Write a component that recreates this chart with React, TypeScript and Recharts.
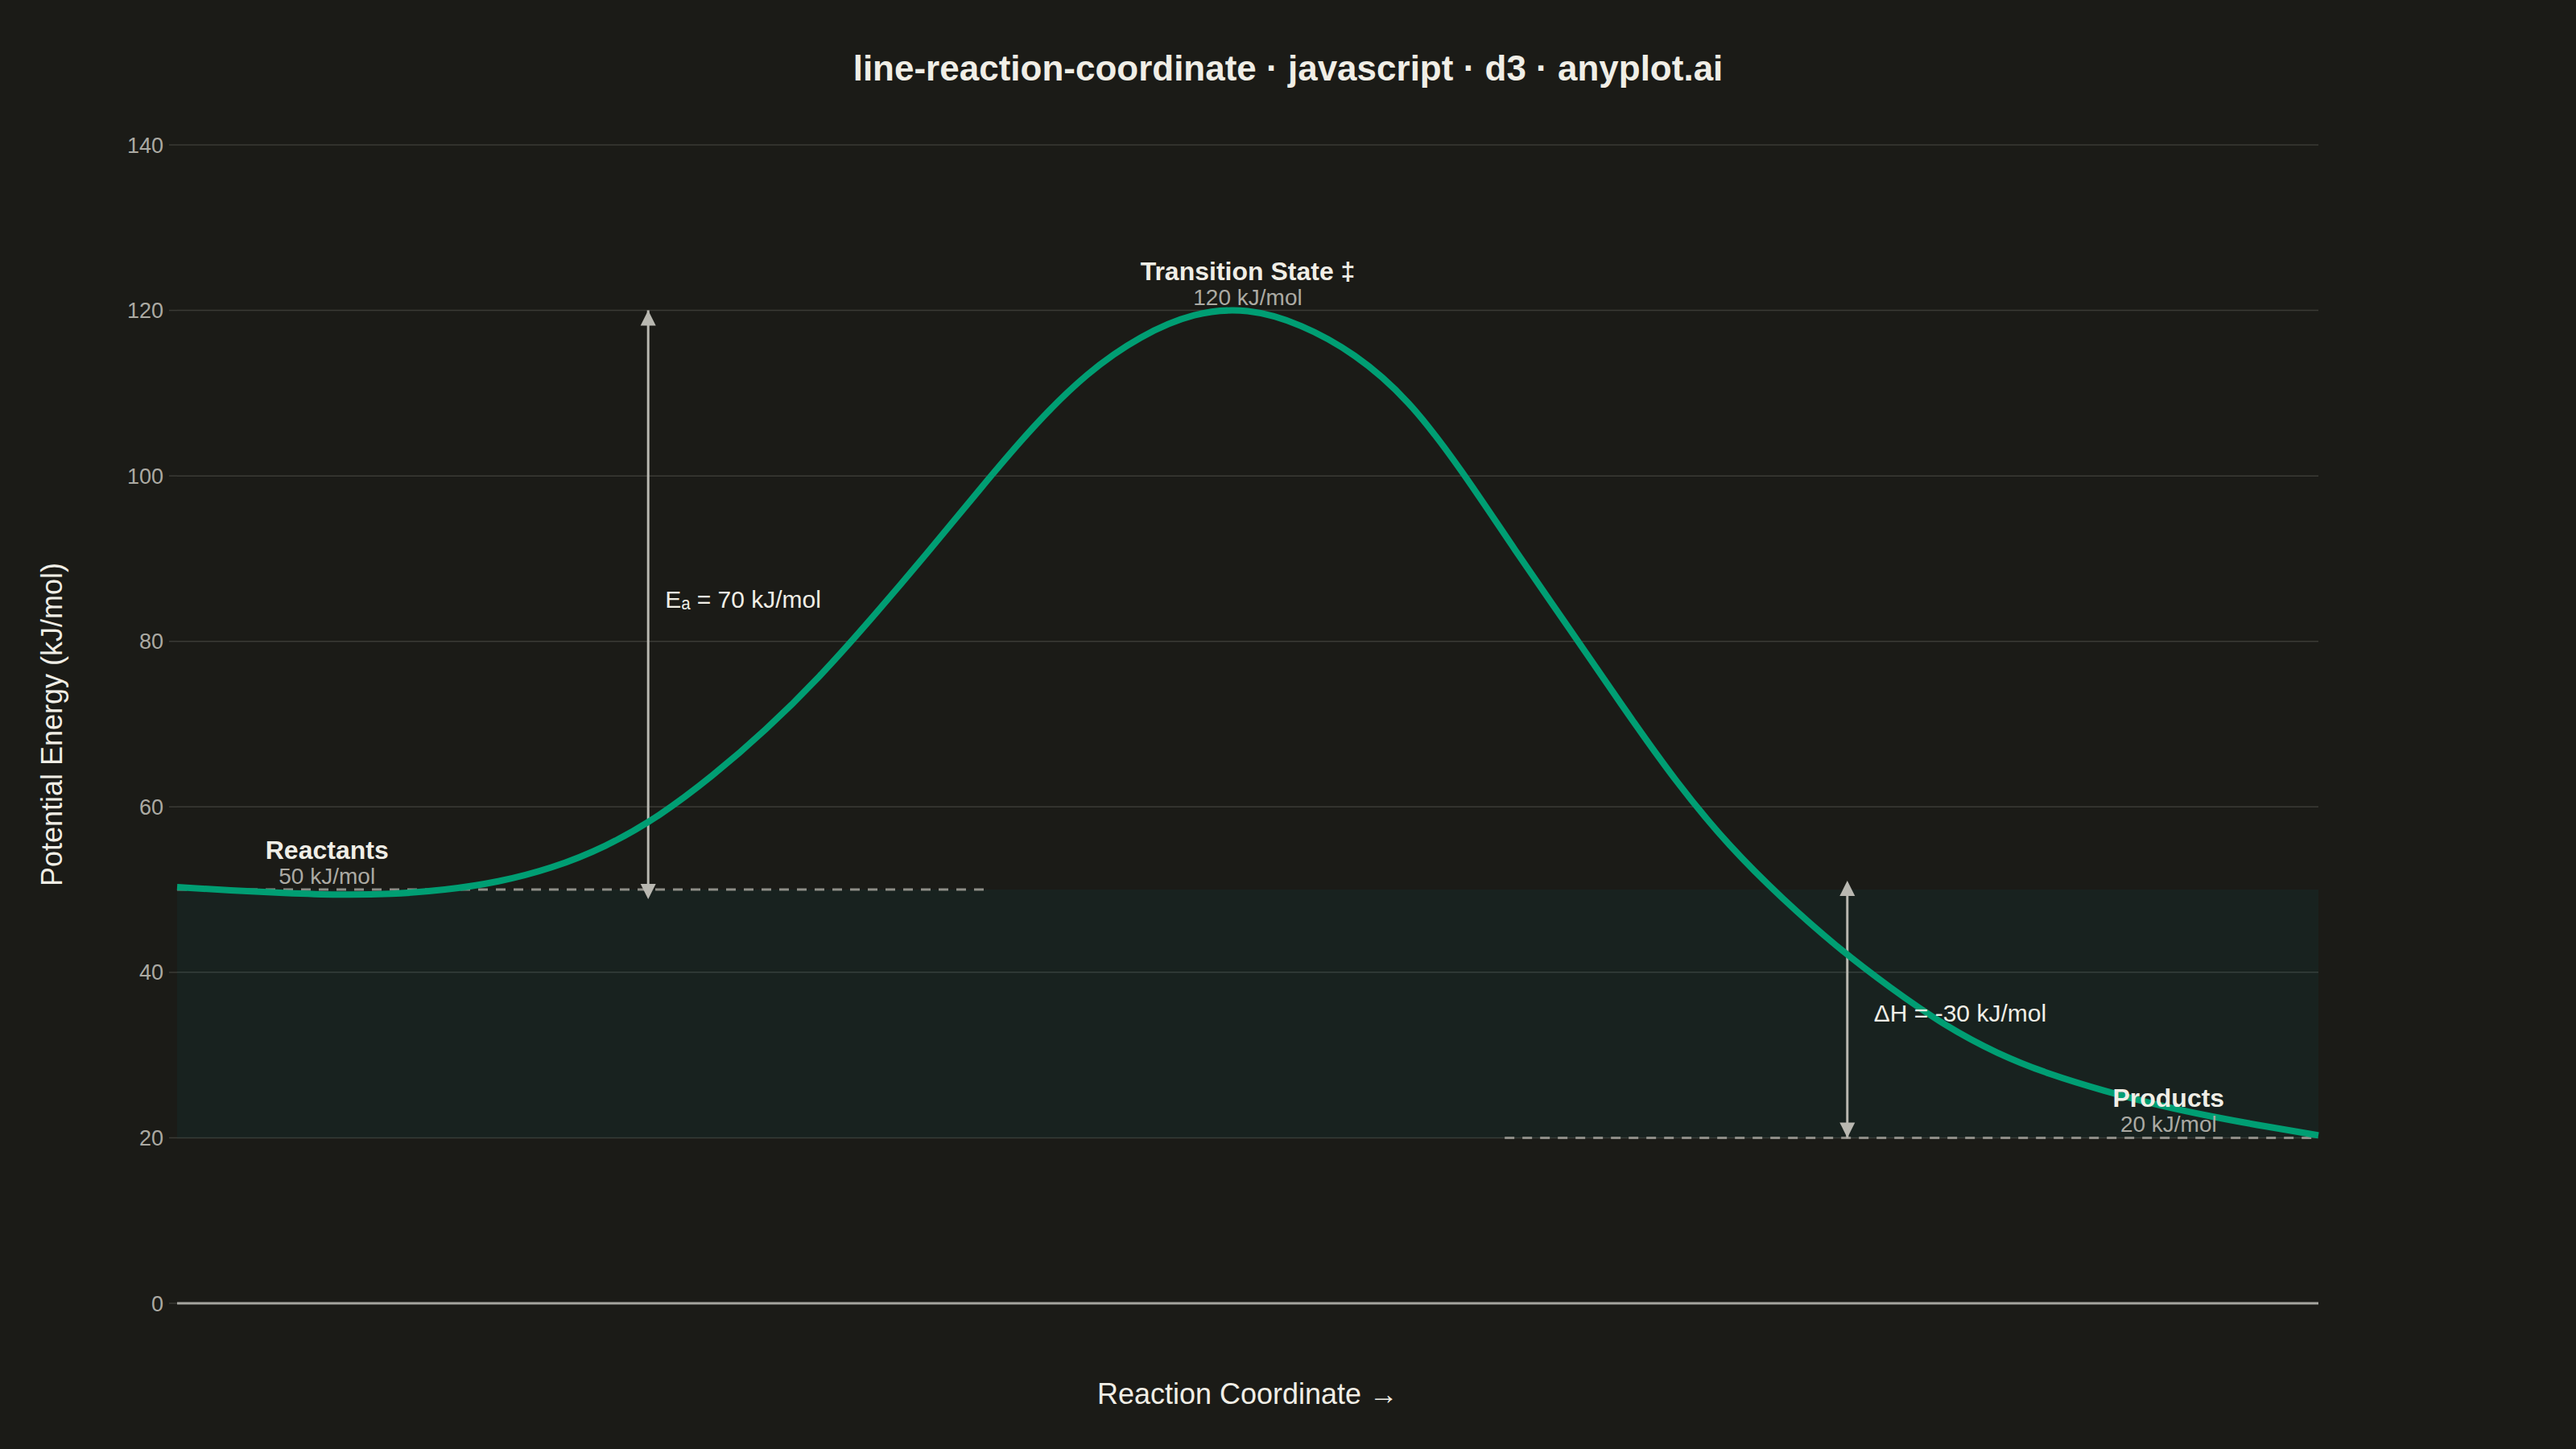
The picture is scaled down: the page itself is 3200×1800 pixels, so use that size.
import {
  ComposedChart,
  Line,
  XAxis,
  YAxis,
  CartesianGrid,
  ReferenceArea,
  ReferenceLine,
  ReferenceDot,
} from "recharts";

// Reaction coordinate (0 = reactants, 100 = products)
const coordinate = [
  0, 2.5, 5, 7.5, 10, 12.5, 15, 17.5, 20, 22.5, 25, 27.5, 30, 32.5, 35, 37.5, 40, 42.5, 45, 47.5,
  50, 52.5, 55, 57.5, 60, 62.5, 65, 67.5, 70, 72.5, 75, 77.5, 80, 82.5, 85, 87.5, 90, 92.5, 95,
  97.5, 100,
];

// Potential energy (kJ/mol)
const energy = [
  50.3, 49.9, 49.6, 49.4, 49.5, 50.0, 51.0, 52.7, 55.3, 59.0, 63.8, 69.4, 75.8, 83.0, 90.6, 98.4,
  105.9, 112.2, 116.7, 119.4, 119.9, 118.1, 114.5, 108.8, 100.5, 91.0, 81.6, 72.2, 63.2, 55.4,
  48.9, 43.2, 38.2, 33.8, 30.3, 27.7, 25.7, 24.0, 22.6, 21.4, 20.3,
];

const yTicks = [0, 20, 40, 60, 80, 100, 120, 140];

const stateNames = ["Reactants", "Transition State ‡", "Products"];
const stateCoordinate = [7, 50, 93];
const stateEnergy = [50, 120, 20];

// dashed energy levels
const levelFrom = [0, 62];
const levelTo = [38, 100];
const levelEnergy = [50, 20];

const arrowCoordinate = [22, 78];
const arrowFrom = [50, 50];
const arrowTo = [120, 20];
const arrowLabels = ["Eₐ = 70 kJ/mol", "ΔH = -30 kJ/mol"];
const arrowLabelGap = [21, 33];

const BG = "#1b1b17";
const GRID = "#3b3b36";
const CURVE = "#009E73";
const ARROW = "#b9b8b1";
const TEXT = "#f0eee6";
const MUTED = "#abaaa3";
const FONT = "'Liberation Sans', Arial, Helvetica, sans-serif";

const chartData = coordinate.map((x, i) => ({ x, energy: energy[i] }));

function XTitle(props: any) {
  const vb = props.viewBox || { x: 220, width: 2660 };
  return (
    <text
      x={vb.x + vb.width / 2}
      y={1744}
      textAnchor="middle"
      fill={TEXT}
      fontSize={36}
      fontFamily={FONT}
    >
      Reaction Coordinate →
    </text>
  );
}

function YTitles() {
  return (
    <g>
      <text
        x={77}
        y={900}
        transform="rotate(-90, 77, 900)"
        textAnchor="middle"
        fill={TEXT}
        fontSize={36}
        fontFamily={FONT}
      >
        Potential Energy (kJ/mol)
      </text>
      <text
        x={1600}
        y={100}
        textAnchor="middle"
        fill={TEXT}
        fontSize={44}
        fontWeight="bold"
        fontFamily={FONT}
      >
        line-reaction-coordinate · javascript · d3 · anyplot.ai
      </text>
    </g>
  );
}

function ArrowHead({ cx, cy, dir, offset }: any) {
  const tip = cy + offset;
  const base = dir === "up" ? tip + 19 : tip - 19;
  return <polygon points={`${cx},${tip} ${cx - 9.5},${base} ${cx + 9.5},${base}`} fill={ARROW} />;
}

export default function App() {
  return (
    <div style={{ width: 3200, height: 1800, background: BG }}>
      <style>{`body{margin:0;background:${BG};}`}</style>
      <ComposedChart
        width={3200}
        height={1800}
        data={chartData}
        margin={{ top: 180, right: 320, bottom: 0, left: 100 }}
      >
        <ReferenceArea
          x1={0}
          x2={100}
          y1={20}
          y2={50}
          fill="#006167"
          fillOpacity={0.1}
          stroke="none"
        />
        <CartesianGrid vertical={false} stroke={GRID} strokeWidth={1.5} />

        <XAxis
          type="number"
          dataKey="x"
          domain={[0, 100]}
          height={181}
          tick={false}
          tickLine={false}
          axisLine={false}
          label={{ content: (p: any) => <XTitle {...p} /> }}
        />
        <YAxis
          type="number"
          domain={[0, 140]}
          ticks={yTicks}
          width={120}
          tickSize={10}
          tickMargin={7}
          tickLine={{ stroke: GRID, strokeWidth: 1.5 }}
          axisLine={false}
          tick={{ fill: MUTED, fontSize: 27, fontFamily: FONT }}
          label={{ content: () => <YTitles /> }}
        />

        <ReferenceLine y={0} stroke="#a6a59f" strokeWidth={3} />

        {levelEnergy.map((e, i) => (
          <ReferenceLine
            key={`level-${i}`}
            segment={[
              { x: levelFrom[i], y: e },
              { x: levelTo[i], y: e },
            ]}
            stroke="#8e8d87"
            strokeWidth={3}
            strokeDasharray="12 10"
          />
        ))}

        {arrowCoordinate.map((x, i) => (
          <ReferenceLine
            key={`arrow-${i}`}
            segment={[
              { x, y: arrowFrom[i] },
              { x, y: arrowTo[i] },
            ]}
            stroke={ARROW}
            strokeWidth={3}
          />
        ))}
        {arrowCoordinate.map((x, i) => {
          const up = arrowTo[i] > arrowFrom[i];
          return (
            <ReferenceDot
              key={`head-start-${i}`}
              x={x}
              y={arrowFrom[i]}
              r={0}
              ifOverflow="visible"
              shape={(p: any) => (
                <ArrowHead cx={p.cx} cy={p.cy} dir={up ? "down" : "up"} offset={up ? 12 : -11} />
              )}
            />
          );
        })}
        {arrowCoordinate.map((x, i) => {
          const up = arrowTo[i] > arrowFrom[i];
          return (
            <ReferenceDot
              key={`head-end-${i}`}
              x={x}
              y={arrowTo[i]}
              r={0}
              ifOverflow="visible"
              shape={(p: any) => (
                <ArrowHead cx={p.cx} cy={p.cy} dir={up ? "up" : "down"} offset={0} />
              )}
            />
          );
        })}
        {arrowCoordinate.map((x, i) => (
          <ReferenceDot
            key={`arrow-label-${i}`}
            x={x}
            y={(arrowFrom[i] + arrowTo[i]) / 2}
            r={0}
            ifOverflow="visible"
            shape={(p: any) => (
              <text
                x={p.cx + arrowLabelGap[i]}
                y={p.cy + 10}
                fill={TEXT}
                fontSize={30}
                fontFamily={FONT}
              >
                {arrowLabels[i]}
              </text>
            )}
          />
        ))}

        <Line
          type="natural"
          dataKey="energy"
          stroke={CURVE}
          strokeWidth={8}
          dot={false}
          activeDot={false}
          isAnimationActive={false}
        />

        {stateNames.map((name, i) => (
          <ReferenceDot
            key={name}
            x={stateCoordinate[i]}
            y={stateEnergy[i]}
            r={0}
            ifOverflow="visible"
            shape={(p: any) => (
              <g fontFamily={FONT} textAnchor="middle">
                <text x={p.cx} y={p.cy - 38} fill={TEXT} fontSize={32} fontWeight="bold">
                  {name}
                </text>
                <text x={p.cx} y={p.cy - 7} fill={MUTED} fontSize={28}>
                  {`${stateEnergy[i]} kJ/mol`}
                </text>
              </g>
            )}
          />
        ))}
      </ComposedChart>
    </div>
  );
}
